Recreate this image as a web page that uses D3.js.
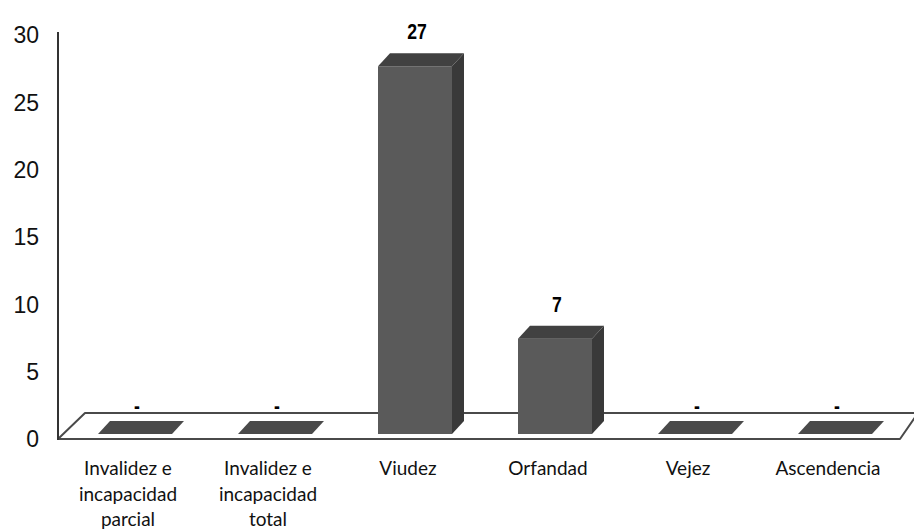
<!DOCTYPE html>
<html>
<head>
<meta charset="utf-8">
<script src="https://cdn.jsdelivr.net/npm/d3@7"></script>
<style>
  html, body { margin: 0; padding: 0; background: #fff; }
  svg { display: block; }
</style>
</head>
<body>
<svg id="chart" width="914" height="531"></svg>
<script>
// ---- data ----
const categories = [
  "Invalidez e\nincapacidad\nparcial",
  "Invalidez e\nincapacidad\ntotal",
  "Viudez",
  "Orfandad",
  "Vejez",
  "Ascendencia"
];
const values = [0, 0, 27, 7, 0, 0];
const valueLabels = ["-", "-", "27", "7", "-", "-"];
const yTicks = [0, 5, 10, 15, 20, 25, 30];

// ---- layout ----
const svg = d3.select("#chart");
const axisX = 58;
const floorFront = 439, floorBack = 413;
const barBase = 434;
const depthX = 12, depthY = 13;
const barW = 74;

const x = d3.scaleBand().domain(categories).range([58, 898]).padding(0);
const yAxis = d3.scaleLinear().domain([0, 30]).range([439, 35]);
const yBar = d3.scaleLinear().domain([0, 30]).range([barBase, barBase - 30 * 13.62]);

// floor
svg.append("path")
  .attr("d", `M${axisX},${floorFront} L900,${floorFront} L918,${floorBack} L85,${floorBack} Z`)
  .attr("fill", "#fff")
  .attr("stroke", "#4a4a4a")
  .attr("stroke-width", 2)
  .attr("stroke-linejoin", "round");

// y axis line
svg.append("line")
  .attr("x1", axisX).attr("x2", axisX)
  .attr("y1", 32).attr("y2", floorFront + 1)
  .attr("stroke", "#333").attr("stroke-width", 2);

// y tick labels
svg.append("g").selectAll("text")
  .data(yTicks).join("text")
  .attr("x", 39)
  .attr("y", d => yAxis(d))
  .attr("dy", "0.36em")
  .attr("text-anchor", "end")
  .attr("font-family", "'Liberation Sans', Arial, sans-serif")
  .attr("font-size", 23)
  .attr("fill", "#111")
  .text(d => d);

// bars
const data = categories.map((c, i) => ({ c, v: values[i], lab: valueLabels[i] }));
const fx = d => x(d.c) + x.bandwidth() / 2 - barW / 2 + 7;

const bars = svg.append("g").selectAll("g").data(data).join("g");

bars.each(function(d) {
  const g = d3.select(this);
  const left = fx(d);
  const top = yBar(d.v);
  if (d.v > 0) {
    g.append("rect")
      .attr("x", left).attr("y", top)
      .attr("width", barW).attr("height", barBase - top)
      .attr("fill", "#5a5a5a");
    g.append("path")
      .attr("d", `M${left + barW},${top} L${left + barW + depthX},${top - depthY} L${left + barW + depthX},${barBase - depthY} L${left + barW},${barBase} Z`)
      .attr("fill", "#393939");
  }
  g.append("path")
    .attr("d", `M${left},${top} L${left + depthX},${top - depthY} L${left + barW + depthX},${top - depthY} L${left + barW},${top} Z`)
    .attr("fill", d.v > 0 ? "#414141" : "#4a4a4a");
});

// value labels (condensed bold)
svg.append("g").selectAll("text")
  .data(data).join("text")
  .attr("transform", d => `translate(${x(d.c) + x.bandwidth() / 2 + 9},${yBar(d.v) - depthY - (d.v > 0 ? 14 : 8)}) scale(0.8,1)`)
  .attr("text-anchor", "middle")
  .attr("font-family", "'Liberation Sans', Arial, sans-serif")
  .attr("font-weight", "bold")
  .attr("font-size", 22)
  .attr("fill", "#000")
  .text(d => d.lab);

// x category labels
const xl = svg.append("g").selectAll("text")
  .data(categories).join("text")
  .attr("x", d => x(d) + x.bandwidth() / 2)
  .attr("y", 475)
  .attr("text-anchor", "middle")
  .attr("font-family", "Lato, 'Open Sans', sans-serif")
  .attr("font-size", 19)
  .attr("fill", "#111");

xl.each(function(d) {
  const t = d3.select(this);
  d.split("\n").forEach((line, i) => {
    t.append("tspan")
      .attr("x", x(d) + x.bandwidth() / 2)
      .attr("dy", i === 0 ? 0 : 25.5)
      .text(line);
  });
});
</script>
</body>
</html>
